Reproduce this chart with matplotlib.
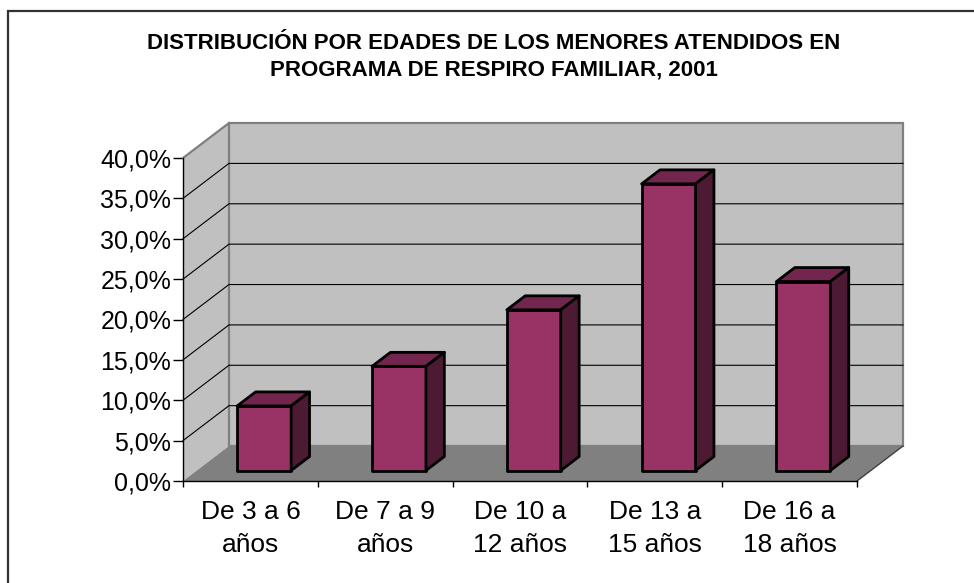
import matplotlib
matplotlib.use("Agg")
import matplotlib.pyplot as plt
from matplotlib.patches import Polygon, Rectangle
from matplotlib.ticker import FixedLocator, FuncFormatter, NullFormatter

plt.rcParams["font.family"] = ["Liberation Sans", "DejaVu Sans"]

TITLE = ("DISTRIBUCIÓN POR EDADES DE LOS MENORES ATENDIDOS EN\n"
         "PROGRAMA DE RESPIRO FAMILIAR, 2001")
CATEGORIES = ["De 3 a 6\naños", "De 7 a 9\naños", "De 10 a\n12 años",
              "De 13 a\n15 años", "De 16 a\n18 años"]
PERCENTS = [8.0, 12.9, 19.9, 35.5, 23.4]
Y_TICKS = [0, 5, 10, 15, 20, 25, 30, 35, 40]

# pseudo-3D box: how far the back wall is shifted, in data units
DEPTH_X = 0.341   # categories
DEPTH_Y = 4.33    # percent
BAR_W = 0.4
BAR_FRONT, BAR_BACK = 0.3, 0.7

WALL = "#C0C0C0"
FLOOR = "#808080"
FACE, TOP, SIDE = "#993366", "#73264D", "#4D1A33"


def pt(x, y, d):
    return (x + d * DEPTH_X, y + d * DEPTH_Y)


def poly(ax, pts, **kw):
    ax.add_patch(Polygon(pts, closed=True, clip_on=False, **kw))


fig = plt.figure(figsize=(9.74, 5.83), dpi=100)
ax = fig.add_axes([183 / 974, 102 / 583, 674 / 974, 323 / 583])
ax.set_xlim(0, len(PERCENTS))
ax.set_ylim(0, Y_TICKS[-1])
ax.patch.set_visible(False)

n = len(PERCENTS)
ymax = Y_TICKS[-1]

# walls and floor
poly(ax, [pt(0, 0, 0), pt(0, ymax, 0), pt(0, ymax, 1), pt(0, 0, 1)],
     facecolor=WALL, edgecolor="none", zorder=1)
poly(ax, [pt(0, 0, 1), pt(n, 0, 1), pt(n, ymax, 1), pt(0, ymax, 1)],
     facecolor=WALL, edgecolor=FLOOR, linewidth=1.6, zorder=1)
poly(ax, [pt(0, 0, 0), pt(n, 0, 0), pt(n, 0, 1), pt(0, 0, 1)],
     facecolor=FLOOR, edgecolor="none", zorder=2)
x0, y0 = zip(pt(0, ymax, 0), pt(0, ymax, 1))
ax.plot(x0, y0, color=FLOOR, linewidth=1.6, clip_on=False, zorder=2)
x0, y0 = zip(pt(n, 0, 0), pt(n, 0, 1))
ax.plot(x0, y0, color="#404040", linewidth=1, clip_on=False, zorder=2)

# gridlines on side and back walls
for v in Y_TICKS[1:-1]:
    xs, ys = zip(pt(0, v, 0), pt(0, v, 1), pt(n, v, 1))
    ax.plot(xs, ys, color="black", linewidth=0.8, clip_on=False, zorder=2)

# bars
for i, v in enumerate(PERCENTS):
    l = i + 0.5 - BAR_W / 2
    r = i + 0.5 + BAR_W / 2
    kw = dict(edgecolor="black", linewidth=2, joinstyle="round", zorder=3)
    poly(ax, [pt(l, 0, BAR_FRONT), pt(r, 0, BAR_FRONT),
              pt(r, v, BAR_FRONT), pt(l, v, BAR_FRONT)], facecolor=FACE, **kw)
    poly(ax, [pt(l, v, BAR_FRONT), pt(r, v, BAR_FRONT),
              pt(r, v, BAR_BACK), pt(l, v, BAR_BACK)], facecolor=TOP, **kw)
    poly(ax, [pt(r, 0, BAR_FRONT), pt(r, 0, BAR_BACK),
              pt(r, v, BAR_BACK), pt(r, v, BAR_FRONT)], facecolor=SIDE, **kw)

# axes
for s in ("top", "right"):
    ax.spines[s].set_visible(False)
for s in ("left", "bottom"):
    ax.spines[s].set_color("black")
    ax.spines[s].set_linewidth(1)
    ax.spines[s].set_zorder(4)

ax.yaxis.set_major_locator(FixedLocator(Y_TICKS))
ax.yaxis.set_major_formatter(
    FuncFormatter(lambda v, _: f"{v:.1f}%".replace(".", ",")))
ax.tick_params(axis="y", length=7, width=1, pad=1.5, labelsize=18)

ax.xaxis.set_major_locator(FixedLocator(range(n + 1)))
ax.xaxis.set_major_formatter(NullFormatter())
ax.xaxis.set_minor_locator(FixedLocator([i + 0.5 for i in range(n)]))
ax.set_xticklabels(CATEGORIES, minor=True, fontsize=19, linespacing=1.48)
ax.tick_params(axis="x", which="major", length=4.5, width=1)
ax.tick_params(axis="x", which="minor", length=0, pad=13.5)

fig.text(494 / 974, 1 - 33 / 583, TITLE, ha="center", va="top",
         fontsize=16, fontweight="bold", linespacing=1.35)

# outer chart frame (cut off on the right and bottom, as in the original)
fig.patches.append(Rectangle((8 / 974, -0.2), 1.2, 1.2 - 11 / 583,
                             transform=fig.transFigure, fill=False,
                             edgecolor="#333333", linewidth=1.6))

fig.savefig("out.png", dpi=100)
